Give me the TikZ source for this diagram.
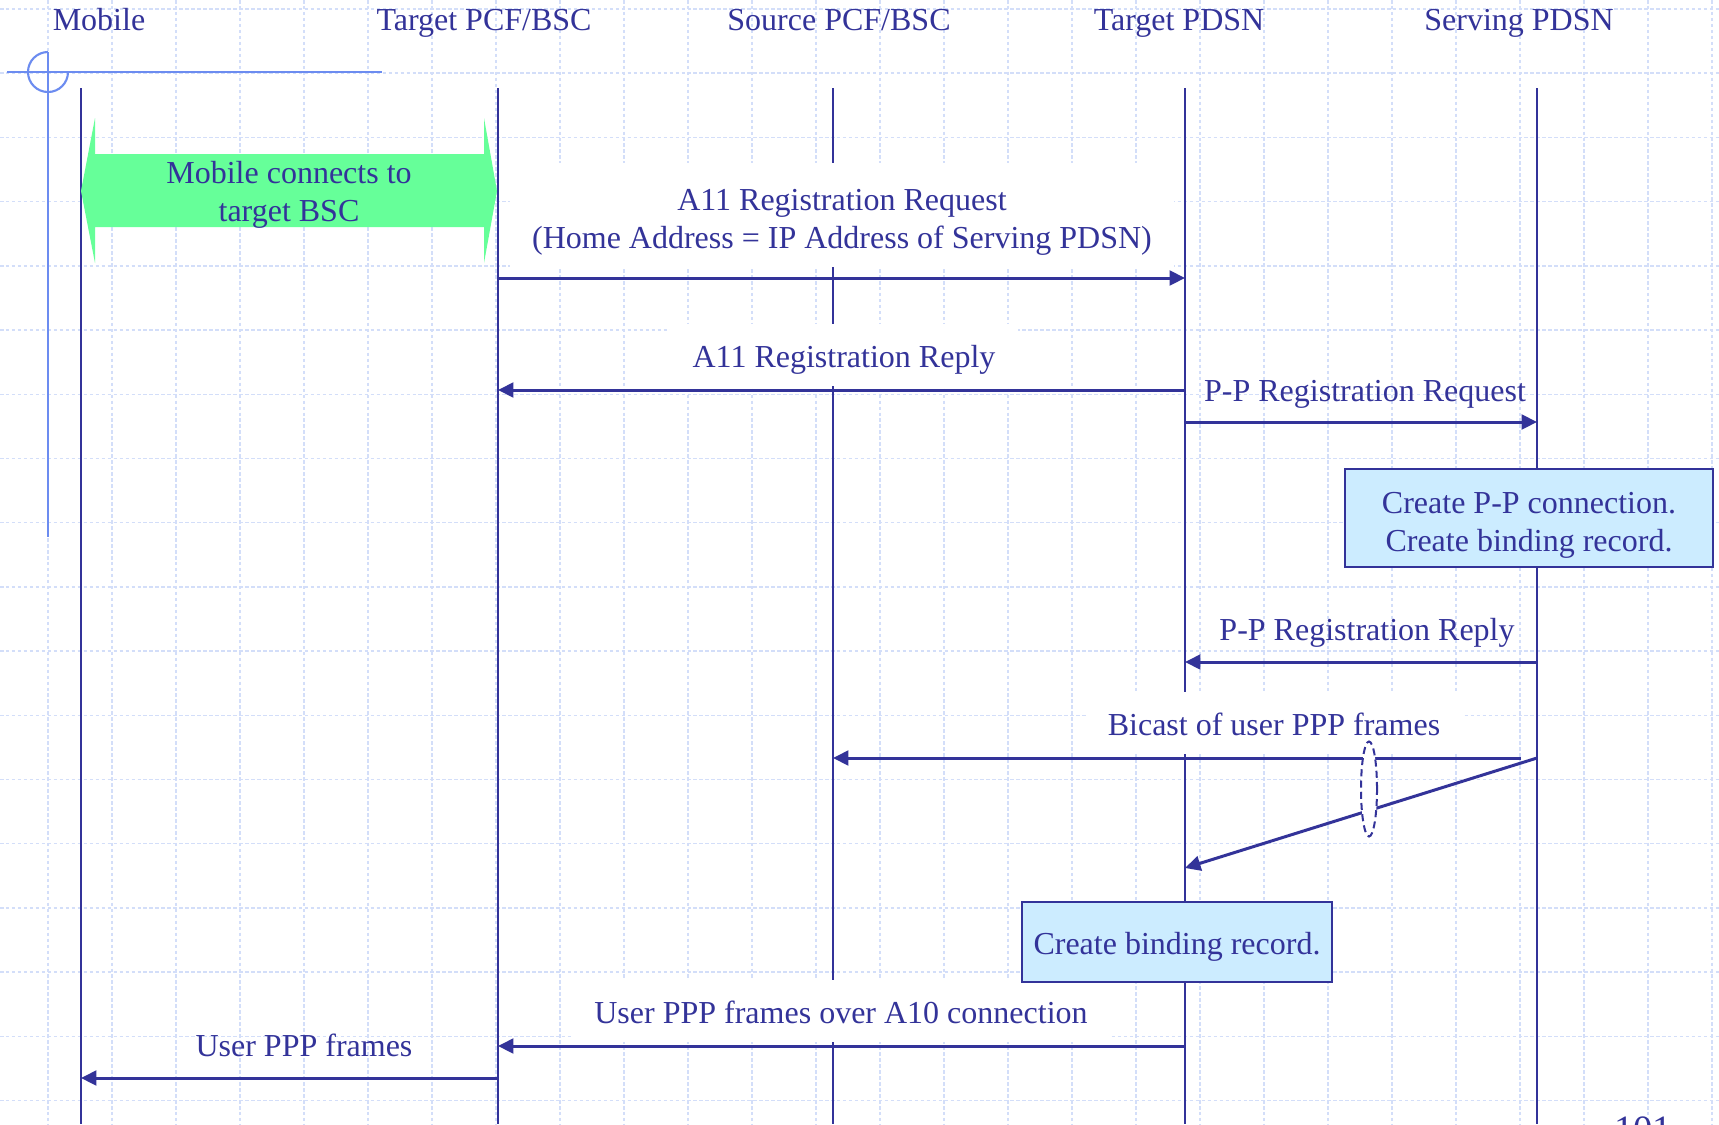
\documentclass[tikz,border=0pt]{standalone}
\usepackage{fontspec}
\setmainfont{Liberation Serif}
\usetikzlibrary{arrows.meta, positioning, shapes.geometric}
\definecolor{InkBlue}{HTML}{333399}
\definecolor{GridBlue}{HTML}{D3DEF9}
\definecolor{MarkBlue}{HTML}{6C8CF0}
\definecolor{LinkGreen}{HTML}{66FF99}
\definecolor{NoteFill}{HTML}{CCECFF}

\begin{document}
\begin{tikzpicture}[
    x=0.01cm, y=-0.01cm,
    font=\fontsize{9.1}{10.8}\selectfont,
    every node/.style={text=InkBlue},
    gridline/.style={GridBlue, line width=0.4pt, dash pattern=on 1pt off 0.7pt},
    life/.style={InkBlue, line width=0.57pt},
    msg/.style={-{Triangle[length=4.4pt, width=4.2pt]}, InkBlue, line width=0.85pt},
    hdr/.style={anchor=base},
    oneline/.style={text height=0.82em, text depth=0.13em},
    twolines/.style={text height=2.01em, text depth=0.13em},
    lbl/.style={
      fill=white, align=center,
      inner xsep=6.3pt, inner ysep=4.1pt
    },
    plainlbl/.style={lbl, fill=none},
    note/.style={
      draw=InkBlue, fill=NoteFill, line width=0.57pt, align=center
    }
  ]
  \fill[white] (0,0) rectangle (1719,1124);
  \useasboundingbox (0,0) rectangle (1719,1124);

  % background grid
  \foreach \i in {0,...,26}
    \draw[gridline] ({48+64*\i},0) -- ({48+64*\i},1124);
  \foreach \j in {0,...,17}
    \draw[gridline] (0,{9+64.2*\j}) -- (1719,{9+64.2*\j});

  % corner mark
  \draw[MarkBlue, line width=0.6pt] (7,72) -- (382,72);
  \draw[MarkBlue, line width=0.6pt] (48,52) -- (48,537);
  \draw[MarkBlue, line width=0.6pt] (48,52) arc[start angle=90, end angle=360, radius=0.2cm];

  % lifelines
  \foreach \n/\x in {mob/81, tpcf/498, spcf/833, tpdsn/1185, spdsn/1537} {
    \coordinate (\n) at (\x,88);
    \draw[life] (\n) -- (\x,1124);
  }

  \node[hdr] (hmob)   at (99,31)   {Mobile};
  \node[hdr] (htpcf)  at (484,31)  {Target PCF/BSC};
  \node[hdr] (hspcf)  at (839,31)  {Source PCF/BSC};
  \node[hdr] (htpdsn) at (1179,31) {Target PDSN};
  \node[hdr] (hspdsn) at (1519,31) {Serving PDSN};

  % air link
  \fill[LinkGreen] (81,191) -- (95,118) -- (95,154) -- (484,154) -- (484,118)
    -- (497,191) -- (484,263) -- (484,227) -- (95,227) -- (95,263) -- cycle;
  \node[align=center] (link) at (289,195) {Mobile connects to\\target BSC};

  % labels
  \node[lbl, twolines] (a11req) at (842,215)
    {A11 Registration Request\\(Home Address = IP Address of Serving PDSN)};
  \node[lbl, oneline] (a11rep) at (844,355) {A11 Registration Reply};
  \node[plainlbl, oneline] (pprq) at (1365,389) {P-P Registration Request};
  \node[plainlbl, oneline] (pprp) at (1367,628) {P-P Registration Reply};
  \node[lbl, oneline] (bicast) at (1274,723) {Bicast of user PPP frames};
  \node[lbl, oneline] (a10) at (841,1011) {User PPP frames over A10 connection};
  \node[plainlbl, oneline] (ppp) at (304,1044) {User PPP frames};

  \node[note, twolines, minimum width=3.67cm, minimum height=0.96cm] (ppconn) at (1529,518)
    {Create P-P connection.\\Create binding record.};
  \node[note, oneline, minimum width=3.04cm, minimum height=0.79cm] (bind) at (1177,942)
    {Create binding record.};

  % messages
  \draw[msg] (tpcf |- 0,278) -- (tpdsn |- 0,278);
  \draw[msg] (tpdsn |- 0,390) -- (tpcf |- 0,390);
  \draw[msg] (tpdsn |- 0,422) -- (spdsn |- 0,422);
  \draw[msg] (spdsn |- 0,662) -- (tpdsn |- 0,662);
  \coordinate (bistart) at (1521,758);
  \draw[msg] (bistart) -- (spcf |- 0,758);
  \draw[msg] (spdsn |- 0,758) -- (tpdsn |- 0,868);
  \node[ellipse, draw=InkBlue, line width=0.57pt, dash pattern=on 2pt off 1.2pt,
        fill=white, inner sep=0pt, minimum width=0.16cm, minimum height=0.95cm] (split) at (1369,789) {};
  \draw[msg] (tpdsn |- 0,1046) -- (tpcf |- 0,1046);
  \draw[msg] (tpcf |- 0,1078) -- (mob |- 0,1078);

  \node[anchor=base, font=\fontsize{11}{13}\selectfont] (pgno) at (1643,1142) {101};
\end{tikzpicture}
\end{document}
